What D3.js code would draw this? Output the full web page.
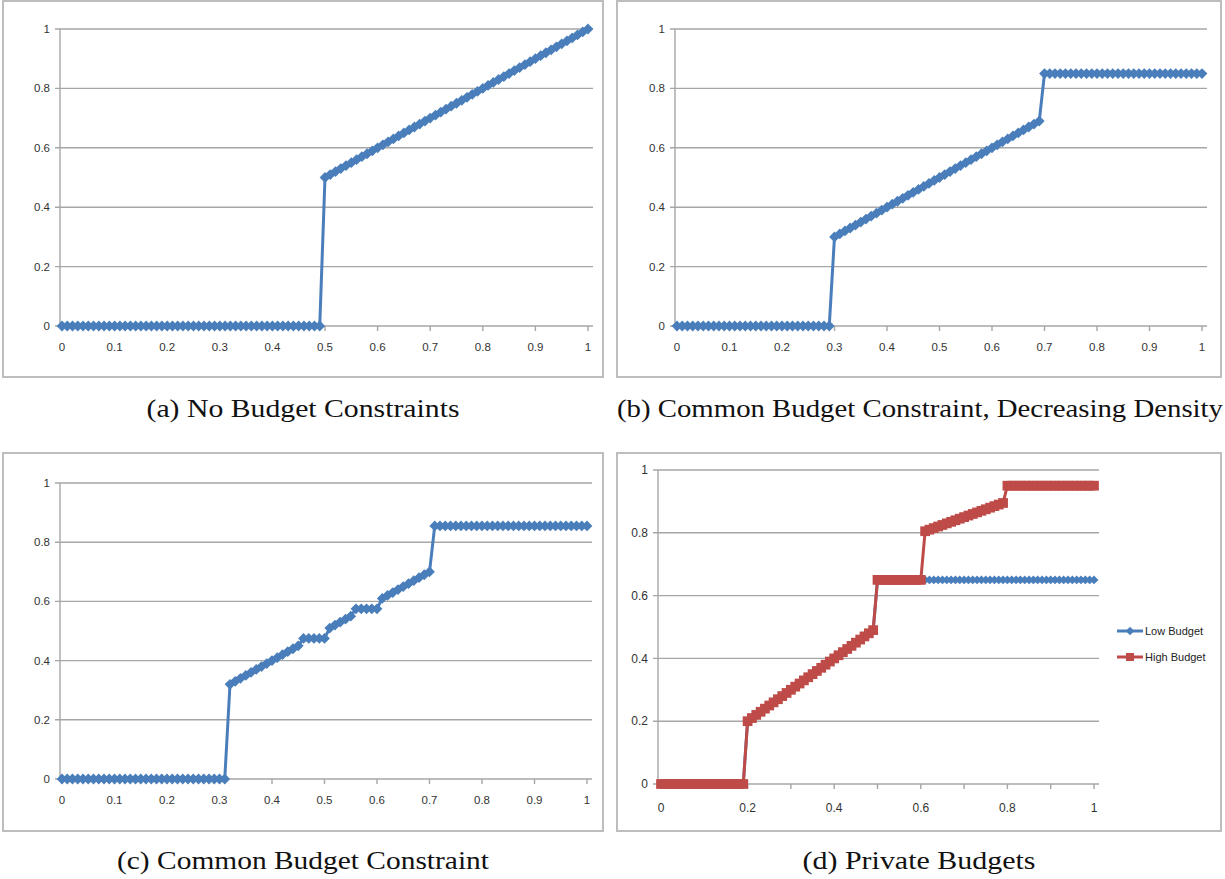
<!DOCTYPE html>
<html>
<head>
<meta charset="utf-8">
<script src="https://cdn.jsdelivr.net/npm/d3@7"></script>
<style>
body { margin: 0; background: #fff; }
</style>
</head>
<body>
<svg id="fig" width="1225" height="879"></svg>
<script>
// x categories: 101 points, 0 .. 1 by 0.01 (index i stands for i/100)
var cats = d3.range(101);

var xLabelsFine = ["0", "0.1", "0.2", "0.3", "0.4", "0.5", "0.6", "0.7", "0.8", "0.9", "1"];
var xLabelsCoarse = ["0", "0.2", "0.4", "0.6", "0.8", "1"];
var yTicks = [0, 0.2, 0.4, 0.6, 0.8, 1];
var yLabels = ["0", "0.2", "0.4", "0.6", "0.8", "1"];

// (a) no budget constraints
var noBudget = [
  0, 0, 0, 0, 0, 0, 0, 0, 0, 0,
  0, 0, 0, 0, 0, 0, 0, 0, 0, 0,
  0, 0, 0, 0, 0, 0, 0, 0, 0, 0,
  0, 0, 0, 0, 0, 0, 0, 0, 0, 0,
  0, 0, 0, 0, 0, 0, 0, 0, 0, 0,
  0.50, 0.51, 0.52, 0.53, 0.54, 0.55, 0.56, 0.57, 0.58, 0.59,
  0.60, 0.61, 0.62, 0.63, 0.64, 0.65, 0.66, 0.67, 0.68, 0.69,
  0.70, 0.71, 0.72, 0.73, 0.74, 0.75, 0.76, 0.77, 0.78, 0.79,
  0.80, 0.81, 0.82, 0.83, 0.84, 0.85, 0.86, 0.87, 0.88, 0.89,
  0.90, 0.91, 0.92, 0.93, 0.94, 0.95, 0.96, 0.97, 0.98, 0.99,
  1.00
];

// (b) common budget, decreasing density
var commonDecreasing = [
  0, 0, 0, 0, 0, 0, 0, 0, 0, 0,
  0, 0, 0, 0, 0, 0, 0, 0, 0, 0,
  0, 0, 0, 0, 0, 0, 0, 0, 0, 0,
  0.30, 0.31, 0.32, 0.33, 0.34, 0.35, 0.36, 0.37, 0.38, 0.39,
  0.40, 0.41, 0.42, 0.43, 0.44, 0.45, 0.46, 0.47, 0.48, 0.49,
  0.50, 0.51, 0.52, 0.53, 0.54, 0.55, 0.56, 0.57, 0.58, 0.59,
  0.60, 0.61, 0.62, 0.63, 0.64, 0.65, 0.66, 0.67, 0.68, 0.69,
  0.85, 0.85, 0.85, 0.85, 0.85, 0.85, 0.85, 0.85, 0.85, 0.85,
  0.85, 0.85, 0.85, 0.85, 0.85, 0.85, 0.85, 0.85, 0.85, 0.85,
  0.85, 0.85, 0.85, 0.85, 0.85, 0.85, 0.85, 0.85, 0.85, 0.85,
  0.85
];

// (c) common budget
var commonBudget = [
  0, 0, 0, 0, 0, 0, 0, 0, 0, 0,
  0, 0, 0, 0, 0, 0, 0, 0, 0, 0,
  0, 0, 0, 0, 0, 0, 0, 0, 0, 0,
  0, 0, 0.32, 0.33, 0.34, 0.35, 0.36, 0.37, 0.38, 0.39,
  0.40, 0.41, 0.42, 0.43, 0.44, 0.45, 0.475, 0.475, 0.475, 0.475,
  0.475, 0.51, 0.52, 0.53, 0.54, 0.55, 0.575, 0.575, 0.575, 0.575,
  0.575, 0.61, 0.62, 0.63, 0.64, 0.65, 0.66, 0.67, 0.68, 0.69,
  0.70, 0.855, 0.855, 0.855, 0.855, 0.855, 0.855, 0.855, 0.855, 0.855,
  0.855, 0.855, 0.855, 0.855, 0.855, 0.855, 0.855, 0.855, 0.855, 0.855,
  0.855, 0.855, 0.855, 0.855, 0.855, 0.855, 0.855, 0.855, 0.855, 0.855,
  0.855
];

// (d) private budgets
var lowBudget = [
  0, 0, 0, 0, 0, 0, 0, 0, 0, 0,
  0, 0, 0, 0, 0, 0, 0, 0, 0, 0,
  0.20, 0.21, 0.22, 0.23, 0.24, 0.25, 0.26, 0.27, 0.28, 0.29,
  0.30, 0.31, 0.32, 0.33, 0.34, 0.35, 0.36, 0.37, 0.38, 0.39,
  0.40, 0.41, 0.42, 0.43, 0.44, 0.45, 0.46, 0.47, 0.48, 0.49,
  0.65, 0.65, 0.65, 0.65, 0.65, 0.65, 0.65, 0.65, 0.65, 0.65,
  0.65, 0.65, 0.65, 0.65, 0.65, 0.65, 0.65, 0.65, 0.65, 0.65,
  0.65, 0.65, 0.65, 0.65, 0.65, 0.65, 0.65, 0.65, 0.65, 0.65,
  0.65, 0.65, 0.65, 0.65, 0.65, 0.65, 0.65, 0.65, 0.65, 0.65,
  0.65, 0.65, 0.65, 0.65, 0.65, 0.65, 0.65, 0.65, 0.65, 0.65,
  0.65
];
var highBudget = [
  0, 0, 0, 0, 0, 0, 0, 0, 0, 0,
  0, 0, 0, 0, 0, 0, 0, 0, 0, 0,
  0.20, 0.21, 0.22, 0.23, 0.24, 0.25, 0.26, 0.27, 0.28, 0.29,
  0.30, 0.31, 0.32, 0.33, 0.34, 0.35, 0.36, 0.37, 0.38, 0.39,
  0.40, 0.41, 0.42, 0.43, 0.44, 0.45, 0.46, 0.47, 0.48, 0.49,
  0.65, 0.65, 0.65, 0.65, 0.65, 0.65, 0.65, 0.65, 0.65, 0.65,
  0.65, 0.805, 0.81, 0.815, 0.82, 0.825, 0.83, 0.835, 0.84, 0.845,
  0.85, 0.855, 0.86, 0.865, 0.87, 0.875, 0.88, 0.885, 0.89, 0.895,
  0.95, 0.95, 0.95, 0.95, 0.95, 0.95, 0.95, 0.95, 0.95, 0.95,
  0.95, 0.95, 0.95, 0.95, 0.95, 0.95, 0.95, 0.95, 0.95, 0.95,
  0.95
];

var seriesNames = ["Low Budget", "High Budget"];
var captions = [
  "(a) No Budget Constraints",
  "(b) Common Budget Constraint, Decreasing Density",
  "(c) Common Budget Constraint",
  "(d) Private Budgets"
];

var blue = "#4A7EBB", red = "#BE4B48";
var svg = d3.select("#fig");

function marker(g, type, size, color, x, y) {
  var sym = d3.symbol().type(d3.symbolSquare).size(size);
  g.append("path")
    .attr("d", sym)
    .attr("transform", "translate(" + x + "," + y + ")" + (type == "diamond" ? " rotate(45)" : ""))
    .style("fill", color);
}

function drawPanel(p) {
  var g = svg.append("g");

  // chart area border
  g.append("rect")
    .attr("x", p.frame[0]).attr("y", p.frame[1])
    .attr("width", p.frame[2] - p.frame[0]).attr("height", p.frame[3] - p.frame[1])
    .style("fill", "#fff").style("stroke", "#bdbdbd").style("stroke-width", 2);

  var x = d3.scalePoint().domain(cats).range([p.x0, p.x1]);
  var y = d3.scaleLinear().domain([0, 1]).range([p.y0, p.y1]);

  // gridlines + y labels
  g.selectAll(".grid").data(yTicks).enter().append("line")
    .attr("x1", p.axisX - 5).attr("x2", p.x1 + 5)
    .attr("y1", function(d){ return y(d); }).attr("y2", function(d){ return y(d); })
    .style("stroke", "#a6a6a6").style("stroke-width", 1.4);

  g.append("line")
    .attr("x1", p.axisX).attr("x2", p.axisX)
    .attr("y1", y(1)).attr("y2", y(0))
    .style("stroke", "#a6a6a6").style("stroke-width", 1.4);

  g.selectAll(".ylab").data(yTicks).enter().append("text")
    .attr("x", p.axisX - 10)
    .attr("y", function(d){ return y(d); })
    .attr("dy", "0.35em")
    .attr("text-anchor", "end")
    .style("font-family", "Liberation Sans, Arial, sans-serif")
    .style("font-size", p.fontSize + "px")
    .style("fill", "#333")
    .text(function(d, i){ return yLabels[i]; });

  // x ticks and labels
  var tickCats = cats.filter(function(c){ return c % p.tickEvery == 0; });
  g.selectAll(".xtick").data(tickCats).enter().append("line")
    .attr("x1", function(d){ return x(d); }).attr("x2", function(d){ return x(d); })
    .attr("y1", p.y0).attr("y2", p.y0 + 5)
    .style("stroke", "#a6a6a6").style("stroke-width", 1.4);

  g.selectAll(".xlab").data(p.xLabels).enter().append("text")
    .attr("x", function(d, i){ return x(i * p.labelEvery); })
    .attr("y", p.y0 + p.labelDy)
    .attr("text-anchor", "middle")
    .style("font-family", "Liberation Sans, Arial, sans-serif")
    .style("font-size", p.fontSize + "px")
    .style("fill", "#333")
    .text(function(d){ return d; });

  // series
  var line = d3.line()
    .x(function(d, i){ return x(i); })
    .y(function(d){ return y(d); });

  p.series.forEach(function(s) {
    g.append("path")
      .datum(s.values)
      .attr("d", line)
      .style("fill", "none")
      .style("stroke", s.color)
      .style("stroke-width", 3)
      .style("stroke-linejoin", "round");
    s.values.forEach(function(v, i) {
      marker(g, s.marker, s.size, s.color, x(i), y(v));
    });
  });

  return g;
}

drawPanel({
  frame: [3, 1, 603, 377], axisX: 60, x0: 62, x1: 588, y0: 326, y1: 29,
  fontSize: 11.5, labelDy: 25, tickEvery: 10, labelEvery: 10, xLabels: xLabelsFine,
  series: [{ values: noBudget, color: blue, marker: "diamond", size: 58 }]
});

drawPanel({
  frame: [617, 1, 1221, 377], axisX: 675, x0: 677, x1: 1202, y0: 326, y1: 29,
  fontSize: 11.5, labelDy: 25, tickEvery: 10, labelEvery: 10, xLabels: xLabelsFine,
  series: [{ values: commonDecreasing, color: blue, marker: "diamond", size: 58 }]
});

drawPanel({
  frame: [3, 453, 603, 831], axisX: 60, x0: 62, x1: 587, y0: 779, y1: 483,
  fontSize: 11.5, labelDy: 25, tickEvery: 10, labelEvery: 10, xLabels: xLabelsFine,
  series: [{ values: commonBudget, color: blue, marker: "diamond", size: 58 }]
});

var gd = drawPanel({
  frame: [617, 453, 1221, 831], axisX: 658, x0: 661, x1: 1094, y0: 784, y1: 470,
  fontSize: 12, labelDy: 28, tickEvery: 10, labelEvery: 20, xLabels: xLabelsCoarse,
  series: [
    { values: lowBudget, color: blue, marker: "diamond", size: 40 },
    { values: highBudget, color: red, marker: "square", size: 95 }
  ]
});

// legend for (d)
var legColors = [blue, red], legMarkers = ["diamond", "square"], legSizes = [36, 64];
seriesNames.forEach(function(name, i) {
  var ly = 631 + i * 26;
  gd.append("line")
    .attr("x1", 1117).attr("x2", 1143).attr("y1", ly).attr("y2", ly)
    .style("stroke", legColors[i]).style("stroke-width", 3);
  marker(gd, legMarkers[i], legSizes[i], legColors[i], 1130, ly);
  gd.append("text")
    .attr("x", 1145).attr("y", ly).attr("dy", "0.35em")
    .style("font-family", "Liberation Sans, Arial, sans-serif")
    .style("font-size", "11px").style("fill", "#222")
    .text(name);
});

// captions
var capPos = [[303, 417, 313], [920, 417, 606], [303, 869, 372], [919, 869, 233]];
captions.forEach(function(c, i) {
  svg.append("text")
    .attr("x", capPos[i][0] - capPos[i][2] / 2)
    .attr("y", capPos[i][1])
    .attr("textLength", capPos[i][2])
    .attr("lengthAdjust", "spacingAndGlyphs")
    .style("font-family", "Liberation Serif, Times New Roman, serif")
    .style("font-size", "26px")
    .style("fill", "#111")
    .text(c);
});
</script>
</body>
</html>
